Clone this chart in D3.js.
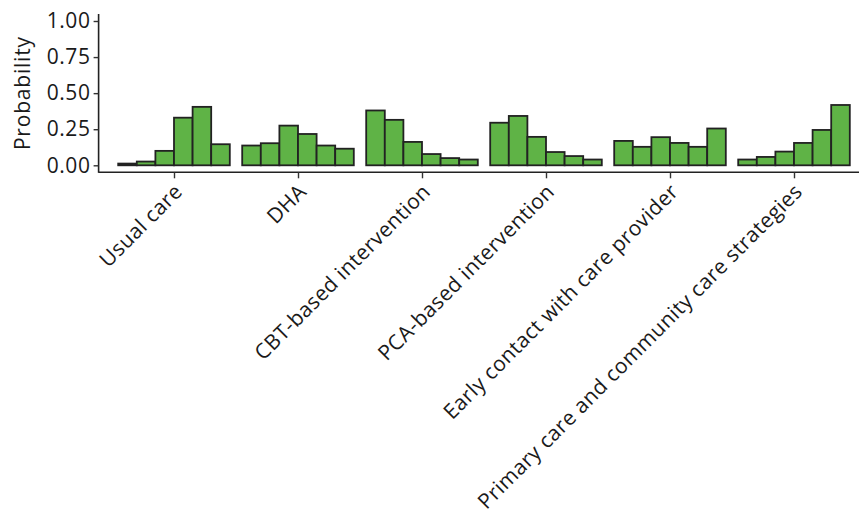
<!DOCTYPE html>
<html>
<head>
<meta charset="utf-8">
<script src="https://cdn.jsdelivr.net/npm/d3@7"></script>
<style>
  html, body { margin: 0; padding: 0; background: #fff; }
  svg { display: block; }
  text { font-family: "Open Sans", "Noto Sans", sans-serif; fill: #1a1a1a; }
</style>
</head>
<body>
<svg id="chart" width="859" height="515"></svg>
<script>
const categories = [
  "Usual care",
  "DHA",
  "CBT-based intervention",
  "PCA-based intervention",
  "Early contact with care provider",
  "Primary care and community care strategies"
];
const levels = [1, 2, 3, 4, 5, 6];
const usualCare   = [0.012, 0.026, 0.100, 0.330, 0.405, 0.146];
const dha         = [0.137, 0.153, 0.275, 0.217, 0.137, 0.115];
const cbt         = [0.380, 0.315, 0.162, 0.078, 0.050, 0.040];
const pca         = [0.295, 0.342, 0.197, 0.092, 0.064, 0.040];
const earlyContact= [0.169, 0.128, 0.195, 0.155, 0.128, 0.255];
const primaryCare = [0.040, 0.058, 0.095, 0.155, 0.245, 0.418];
const seriesValues = [usualCare, dha, cbt, pca, earlyContact, primaryCare];
const yTicks = [0, 0.25, 0.5, 0.75, 1.0];
const yTitle = "Probability";

const svg = d3.select("#chart");
const mLeft = 99.6, mRight = 868.4, mTop = 21, mBottom = 165.3;

const x = d3.scalePoint().domain(categories).range([mLeft, mRight]).padding(0.6);
const step = x.step();
const inner = d3.scaleBand().domain(levels).range([-0.45 * step, 0.45 * step]);
const y = d3.scaleLinear().domain([0, 1]).range([mBottom, mTop]);

const data = [];
categories.forEach((c, i) => {
  seriesValues[i].forEach((v, j) => data.push({ cat: c, level: levels[j], value: v }));
});

svg.append("g").selectAll("rect").data(data).join("rect")
  .attr("x", d => x(d.cat) + inner(d.level))
  .attr("width", inner.bandwidth())
  .attr("y", d => y(d.value))
  .attr("height", d => y(0) - y(d.value))
  .attr("fill", "#5fb346")
  .attr("stroke", "#222")
  .attr("stroke-width", 1.8);

// Y axis
const yAxis = svg.append("g").attr("transform", `translate(${mLeft - 1},0)`)
  .call(d3.axisLeft(y).tickValues(yTicks).tickFormat(d3.format(".2f")).tickSize(5).tickPadding(3));
yAxis.select(".domain").attr("stroke", "#222").attr("stroke-width", 1.6)
  .attr("d", `M0,${mTop - 7}V${mBottom + 7.5}`);
yAxis.selectAll(".tick line").attr("stroke", "#333").attr("stroke-width", 1.4);
yAxis.selectAll(".tick text").attr("font-size", 21).attr("fill", "#1a1a1a")
  .attr("letter-spacing", "0.6px")
  .style("font-family", "'Open Sans', sans-serif");

// X axis
const axisY = mBottom + 7;
const xAxis = svg.append("g").attr("transform", `translate(0,${axisY})`)
  .call(d3.axisBottom(x).tickSize(6).tickFormat(""));
xAxis.select(".domain").attr("stroke", "#222").attr("stroke-width", 1.6)
  .attr("d", `M${mLeft - 1},0H${mRight}`);
xAxis.selectAll(".tick line").attr("stroke", "#333").attr("stroke-width", 1.4);

svg.append("g").selectAll("text").data(categories).join("text")
  .attr("transform", d => `translate(${x(d) - 1},${axisY + 10}) rotate(-45)`)
  .attr("text-anchor", "end")
  .attr("dy", "0.72em")
  .attr("font-size", 21)
  .attr("letter-spacing", "0.4px")
  .text(d => d);

svg.append("text")
  .attr("transform", `translate(30,${(mTop + mBottom) / 2}) rotate(-90)`)
  .attr("text-anchor", "middle")
  .attr("font-size", 21)
  .attr("letter-spacing", "0.8px")
  .text(yTitle);
</script>
</body>
</html>
